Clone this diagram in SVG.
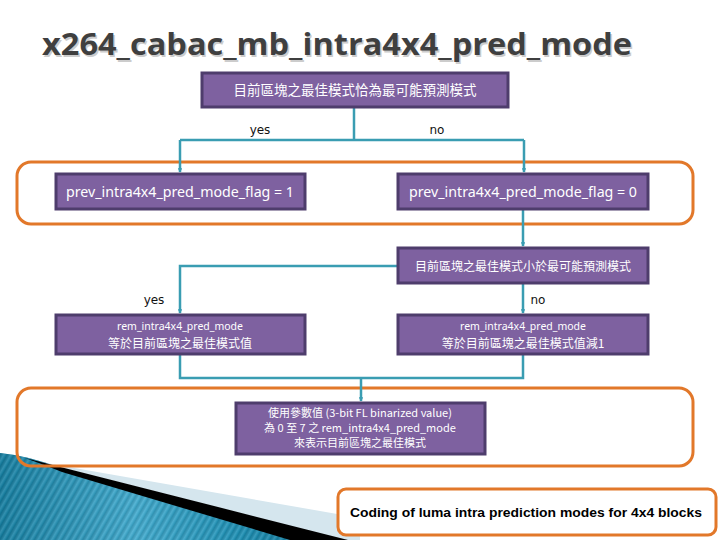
<svg xmlns="http://www.w3.org/2000/svg" width="720" height="540" viewBox="0 0 720 540">
<style>
.box{fill:#7E61A0;stroke:#4E3D6C;stroke-width:3}
.bt{fill:#ffffff;font-family:"Noto Sans","Noto Sans CJK TC",sans-serif;text-anchor:middle}
.cj{fill:#ffffff;font-family:"Noto Sans CJK TC","Noto Sans",sans-serif;text-anchor:middle}
.lbl{fill:#111111;font-family:"DejaVu Sans","Liberation Sans",sans-serif;font-size:12px;text-anchor:middle}
.org{fill:none;stroke:#E2782A;stroke-width:3}
.con{fill:none;stroke:#3A9DB2;stroke-width:2.5}
</style>
<defs>
<marker id="ah" viewBox="0 0 6 6" refX="5" refY="3" markerWidth="1.8" markerHeight="1.8" orient="auto">
<path d="M0,0 L6,3 L0,6 Z" fill="#3A9DB2"/>
</marker>
<linearGradient id="blue" x1="0" y1="0" x2="1" y2="0">
<stop offset="0" stop-color="#0E6A88"/>
<stop offset="0.45" stop-color="#5BB8D8"/>
<stop offset="0.8" stop-color="#1B88AA"/>
<stop offset="1" stop-color="#0E6A88"/>
</linearGradient>
<pattern id="stripes" width="6" height="6" patternUnits="userSpaceOnUse" patternTransform="rotate(30)">
<rect width="6" height="6" fill="url(#blue)"/>
<line x1="0" y1="0" x2="0" y2="6" stroke="#ffffff" stroke-opacity="0.12" stroke-width="1"/>
</pattern>
</defs>
<rect width="720" height="540" fill="#ffffff"/>

<g id="decor">
<path d="M0,453 Q30,456 60,468 L300,540 L0,540 Z" fill="url(#blue)"/>
<path d="M0,453 Q30,456 60,468 L300,540 L0,540 Z" fill="url(#stripes)" opacity="0.5"/>
<path d="M40,462 L360,518 L360,540 L345,540 Z" fill="#D5E6EE"/>
<path d="M25,458 L348,540 L290,540 L62,472 Q45,465 25,458 Z" fill="#000000"/>
</g>

<g id="title">
<text x="42" y="55" font-family="'Open Sans','DejaVu Sans',sans-serif" font-size="31" font-weight="700" fill="#cccccc" textLength="590" lengthAdjust="spacingAndGlyphs" transform="translate(1.5,1.5)">x264_cabac_mb_intra4x4_pred_mode</text>
<text x="42" y="55" font-family="'Open Sans','DejaVu Sans',sans-serif" font-size="31" font-weight="700" fill="#3F3F3F" textLength="590" lengthAdjust="spacingAndGlyphs">x264_cabac_mb_intra4x4_pred_mode</text>
</g>

<g id="groups">
<rect class="org" x="17" y="162" width="676" height="62" rx="14"/>
<rect class="org" x="17" y="388" width="676" height="78" rx="14"/>
</g>

<g id="connectors">
<polyline class="con" points="354,107 354,140"/>
<polyline class="con" points="180,140 524,140"/>
<polyline class="con" points="180,140 180,172" marker-end="url(#ah)"/>
<polyline class="con" points="524,140 524,172" marker-end="url(#ah)"/>
<polyline class="con" points="523,210 523,246" marker-end="url(#ah)"/>
<polyline class="con" points="398,266 180,266 180,313" marker-end="url(#ah)"/>
<polyline class="con" points="523,284 523,313" marker-end="url(#ah)"/>
<polyline class="con" points="180,355 180,378 523,378 523,355"/>
<polyline class="con" points="361,378 361,401" marker-end="url(#ah)"/>
<text class="lbl" x="260" y="134">yes</text>
<text class="lbl" x="437" y="134">no</text>
<text class="lbl" x="154" y="304">yes</text>
<text class="lbl" x="538" y="304">no</text>
</g>

<g id="n1">
<rect class="box" x="202" y="73" width="306" height="34"/>
<text class="cj" x="355" y="95" font-size="13.5">目前區塊之最佳模式恰為最可能預測模式</text>
</g>
<g id="n2">
<rect class="box" x="56" y="174" width="249" height="35"/>
<text class="bt" x="180" y="197" font-size="14" textLength="228" lengthAdjust="spacingAndGlyphs">prev_intra4x4_pred_mode_flag = 1</text>
</g>
<g id="n3">
<rect class="box" x="398" y="174" width="250" height="35"/>
<text class="bt" x="523" y="197" font-size="14" textLength="228" lengthAdjust="spacingAndGlyphs">prev_intra4x4_pred_mode_flag = 0</text>
</g>
<g id="n4">
<rect class="box" x="398" y="248" width="250" height="35"/>
<text class="cj" x="523" y="271" font-size="12">目前區塊之最佳模式小於最可能預測模式</text>
</g>
<g id="n5">
<rect class="box" x="56" y="315" width="249" height="39"/>
<text class="bt" x="180" y="330" font-size="10.5">rem_intra4x4_pred_mode</text>
<text class="cj" x="180" y="348" font-size="12">等於目前區塊之最佳模式值</text>
</g>
<g id="n6">
<rect class="box" x="398" y="315" width="250" height="39"/>
<text class="bt" x="523" y="330" font-size="10.5">rem_intra4x4_pred_mode</text>
<text class="cj" x="523" y="348" font-size="12">等於目前區塊之最佳模式值減1</text>
</g>
<g id="n7">
<rect class="box" x="236" y="403" width="249" height="51"/>
<text class="cj" x="360" y="417" font-size="11">使用參數值 (3-bit FL binarized value)</text>
<text class="cj" x="360" y="432" font-size="11">為 0 至 7 之 rem_intra4x4_pred_mode</text>
<text class="cj" x="360" y="447" font-size="11">來表示目前區塊之最佳模式</text>
</g>

<g id="caption">
<rect x="338" y="489" width="378" height="46" rx="8" fill="#ffffff" stroke="#E2782A" stroke-width="3"/>
<text x="526" y="517" font-family="'Liberation Sans',Arial,sans-serif" font-size="13" font-weight="bold" fill="#000000" text-anchor="middle" textLength="352" lengthAdjust="spacingAndGlyphs">Coding of luma intra prediction modes for 4x4 blocks</text>
</g>
</svg>
